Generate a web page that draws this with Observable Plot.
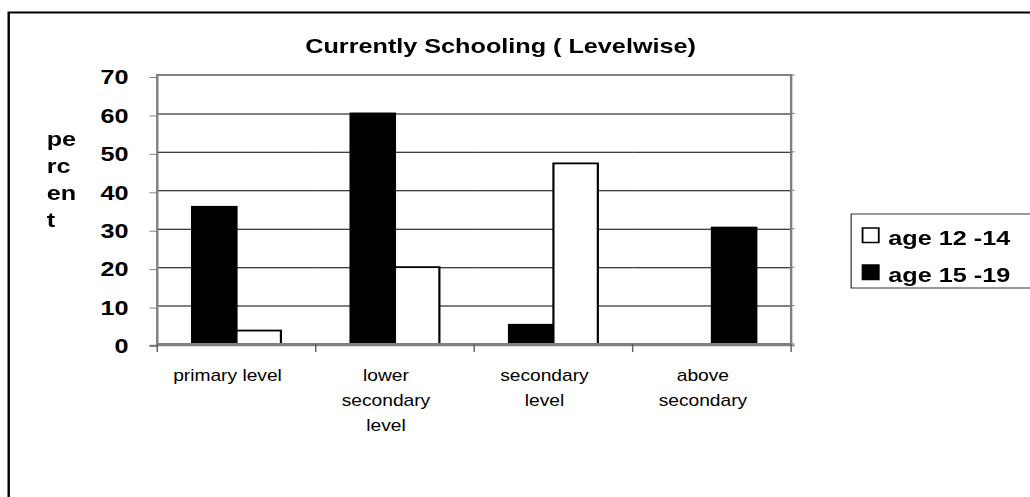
<!DOCTYPE html>
<html>
<head>
<meta charset="utf-8">
<script src="https://cdn.jsdelivr.net/npm/d3@7"></script>
<script src="https://cdn.jsdelivr.net/npm/@observablehq/plot@0.6"></script>
<style>
  html, body { margin: 0; padding: 0; background: #fff; overflow: hidden; }
  /* the chart is laid out narrower and widened horizontally, like the exported sheet */
  #chart { width: 858px; height: 497px; transform: scaleX(1.2005); transform-origin: 0 0; }
  #chart svg [aria-label="y-axis tick label"] text { font-weight: bold; }
</style>
</head>
<body>
<div id="chart"></div>
<script>
// Share of currently schooling children by level, per age group (percent)
const categories = ["primary level", "lower secondary level", "secondary level", "above secondary"];
const categoryLabels = ["primary level", "lower\nsecondary\nlevel", "secondary\nlevel", "above\nsecondary"];
const seriesNames = ["age 12 -14", "age 15 -19"];
const age12to14 = [3.5, 20, 47, null];
const age15to19 = [35.7, 60, 5, 30.3];
// order of the two series inside each level group (index into seriesNames)
const barOrder = [[1, 0], [1, 0], [1, 0], [0, 1]];
const yTicks = [0, 10, 20, 30, 40, 50, 60, 70];

(function draw() {
  const seriesValues = [age12to14, age15to19];
  const rows = categories.flatMap((category, i) =>
    barOrder[i].map((s, slot) => ({
      category,
      slot,
      series: seriesNames[s],
      value: seriesValues[s][i]
    }))
  ).filter(d => d.value != null);

  const font = "'Liberation Sans', Arial, Helvetica, sans-serif";
  const W = 858, H = 497;

  const chart = Plot.plot({
    width: W,
    height: H,
    marginLeft: 130,
    marginRight: 197.2,
    marginTop: 75,
    marginBottom: 153,
    style: { fontFamily: font, background: "white", overflow: "visible", color: "black" },
    fx: { domain: categories, padding: 0, axis: null },
    x: { domain: [0, 1], paddingInner: 0, paddingOuter: 0.77, axis: null },
    y: { domain: [0, 70], axis: null },
    color: { domain: seriesNames, range: ["white", "black"] },
    marks: [
      Plot.ruleY(yTicks, { stroke: "black", strokeWidth: 1 }),
      Plot.barY(rows, {
        fx: "category",
        x: "slot",
        y: "value",
        fill: "series",
        stroke: "black",
        strokeWidth: 1.8
      }),
      Plot.axisY(yTicks, {
        label: null,
        tickSize: 6.5,
        tickPadding: 18,
        fontSize: 21,
        fontWeight: "bold",
        stroke: "#808080",
        fill: "black",
        dy: 2
      }),
      Plot.text(categories, {
        fx: d => d,
        text: (d, i) => categoryLabels[i],
        frameAnchor: "bottom",
        lineAnchor: "top",
        dx: -8,
        dy: 19,
        fontSize: 16,
        lineHeight: 1.56,
        fill: "black"
      })
    ]
  });

  document.getElementById("chart").appendChild(chart);

  // frame, axis line, boundary ticks, titles and legend
  const svg = d3.select(chart);
  const y = chart.scale("y");
  const fx = chart.scale("fx");
  const frameLeft = fx.apply(categories[0]);
  const frameRight = fx.apply(categories[categories.length - 1]) + fx.bandwidth;
  const frameTop = y.apply(70);
  const frameBase = y.apply(0);

  const deco = svg.append("g");

  // right-hand tick stubs on the gridlines
  yTicks.forEach(t => {
    deco.append("line")
      .attr("x1", frameRight).attr("x2", frameRight + 3)
      .attr("y1", y.apply(t)).attr("y2", y.apply(t))
      .attr("stroke", "#808080").attr("stroke-width", 1);
  });

  // plot area frame
  deco.append("rect")
    .attr("x", frameLeft).attr("y", frameTop)
    .attr("width", frameRight - frameLeft).attr("height", frameBase - frameTop)
    .attr("fill", "none").attr("stroke", "#808080").attr("stroke-width", 2);

  // category axis line and boundary ticks
  deco.append("line")
    .attr("x1", frameLeft - 6.5).attr("x2", frameRight + 3)
    .attr("y1", frameBase + 1.5).attr("y2", frameBase + 1.5)
    .attr("stroke", "#808080").attr("stroke-width", 1.5);
  categories.map(c => fx.apply(c)).concat([frameRight]).forEach(bx => {
    deco.append("line")
      .attr("x1", bx).attr("x2", bx)
      .attr("y1", frameBase).attr("y2", frameBase + 8)
      .attr("stroke", "#606060").attr("stroke-width", 1.2);
  });

  // title
  svg.append("text")
    .attr("x", 417).attr("y", 53.3)
    .attr("text-anchor", "middle")
    .attr("font-family", font).attr("font-size", 21).attr("font-weight", "bold")
    .attr("fill", "black")
    .text("Currently Schooling ( Levelwise)");

  // y-axis title, broken over lines
  const yTitle = svg.append("text")
    .attr("text-anchor", "start")
    .attr("font-family", font).attr("font-size", 21).attr("font-weight", "bold")
    .attr("fill", "black");
  ["pe", "rc", "en", "t"].forEach((s, i) => {
    yTitle.append("tspan").attr("x", 38.9).attr("y", 146 + i * 27).text(s);
  });

  // legend
  const legend = svg.append("g").attr("text-anchor", "start");
  legend.append("rect")
    .attr("x", 709).attr("y", 214).attr("width", 200).attr("height", 74)
    .attr("fill", "white").attr("stroke", "#333").attr("stroke-width", 1);
  seriesNames.forEach((name, i) => {
    legend.append("rect")
      .attr("x", 718.5).attr("y", 228 + i * 37).attr("width", 13.5).attr("height", 14.5)
      .attr("fill", chart.scale("color").apply(name))
      .attr("stroke", "black").attr("stroke-width", 1.5);
    legend.append("text")
      .attr("x", 740).attr("y", 245 + i * 37)
      .attr("font-family", font).attr("font-size", 21).attr("font-weight", "bold")
      .attr("fill", "black")
      .text(name);
  });

  // outer chart border (left and top edges fall inside the page)
  svg.append("path")
    .attr("d", `M7.25,${H} V12.5 H${W}`)
    .attr("fill", "none").attr("stroke", "black").attr("stroke-width", 2);
})();
</script>
</body>
</html>
